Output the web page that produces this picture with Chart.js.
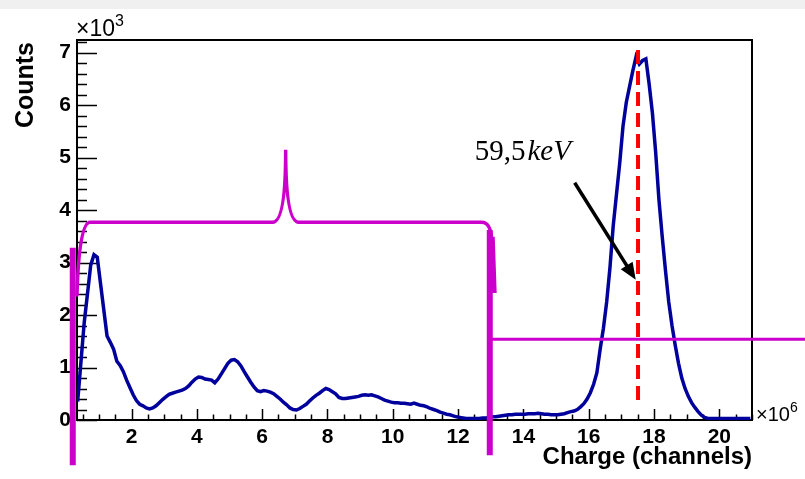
<!DOCTYPE html>
<html>
<head>
<meta charset="utf-8">
<script src="https://cdn.jsdelivr.net/npm/chart.js@4.4.0/dist/chart.umd.min.js"></script>
<style>
    html, body { margin: 0; padding: 0; background: #fff; }
    #spectrumChart { display: block; }
</style>
</head>
<body>
<canvas id="spectrumChart" width="805" height="479"></canvas>
<script>

// histogram: bins of 0.1 x10^6 channels starting at 0.3, counts in units of 10^3
const binStart = 0.3;
const binWidth = 0.1;
const countsK = [
    0.35, 1.1, 1.85, 2.4, 2.95, 3.15, 3.1, 2.6, 2.1, 1.6,
    1.48, 1.35, 1.12, 1.04, 0.92, 0.76, 0.62, 0.48, 0.37, 0.3,
    0.27, 0.23, 0.21, 0.23, 0.27, 0.33, 0.39, 0.44, 0.49, 0.51,
    0.53, 0.55, 0.57, 0.6, 0.65, 0.72, 0.78, 0.82, 0.81, 0.78,
    0.77, 0.76, 0.71, 0.78, 0.88, 0.98, 1.08, 1.14, 1.15, 1.11,
    1.03, 0.92, 0.82, 0.72, 0.63, 0.56, 0.54, 0.56, 0.55, 0.53,
    0.5, 0.45, 0.4, 0.34, 0.29, 0.23, 0.2, 0.19, 0.22, 0.26,
    0.3, 0.36, 0.42, 0.47, 0.51, 0.56, 0.6, 0.58, 0.54, 0.5,
    0.43, 0.41, 0.41, 0.42, 0.43, 0.44, 0.45, 0.47, 0.48, 0.47,
    0.48, 0.46, 0.44, 0.41, 0.38, 0.36, 0.34, 0.33, 0.33, 0.32,
    0.32, 0.31, 0.3, 0.32, 0.3, 0.28, 0.27, 0.25, 0.22, 0.2,
    0.18, 0.15, 0.13, 0.11, 0.1, 0.08, 0.06, 0.05, 0.04, 0.03,
    0.03, 0.03, 0.03, 0.03, 0.04, 0.04, 0.05, 0.06, 0.06, 0.07,
    0.08, 0.09, 0.1, 0.1, 0.11, 0.11, 0.11, 0.11, 0.12, 0.12,
    0.12, 0.13, 0.12, 0.11, 0.11, 0.1, 0.1, 0.1, 0.11, 0.12,
    0.14, 0.16, 0.17, 0.2, 0.25, 0.31, 0.4, 0.52, 0.68, 0.9,
    1.35, 1.75, 2.25, 2.9, 3.7, 4.3, 4.9, 5.6, 6.05, 6.35,
    6.65, 6.92, 6.78, 6.85, 6.88, 6.4, 5.85, 5.1, 4.2, 3.5,
    2.85, 2.25, 1.8, 1.42, 1.08, 0.8, 0.6, 0.45, 0.33, 0.24,
    0.16, 0.09, 0.05, 0.03, 0.03, 0.03, 0.03, 0.03, 0.03, 0.03,
    0.03, 0.03, 0.03, 0.03, 0.03, 0.03, 0.03
];

const xRange = [0.33, 21];
const yRange = [0, 7.24];
const xMajorTicks = [2, 4, 6, 8, 10, 12, 14, 16, 18, 20];
const yMajorTicks = [0, 1, 2, 3, 4, 5, 6, 7];
const xMinorStep = 0.5;
const yMinorStep = 0.2;

// annotations, in axis units
const peakLine = { x: 17.51, yTop: 7.05, yBottom: 0.34 };
const peakText = { x: 12.51, y: 4.96, num: '59,5', unit: 'keV' };
const arrowFrom = [15.57, 4.52];
const arrowTo = [17.44, 2.67];
const sideBars = [[0.2, 3.28, -0.86], [12.97, 3.62, -0.67]];
const braceLevel = 3.77;
const braceLeft = [0.33, 2.38];
const braceTip = [6.72, 5.15];
const braceRight = [13.03, 3.43, 13.09, 2.42];
const regionLine = { y: 1.54, xFrom: 12.97, xTo: 22.7 };

// fine binning in the original, so points go at bin centres and get joined
const histPoints = countsK.map(function (v, i) {
    return { x: binStart + (i + 0.5) * binWidth, y: v };
});

const magenta = '#cc00cc';

function powerLabel(ctx, x, y, exp, size) {
    ctx.font = size + 'px "Liberation Sans", Arial, sans-serif';
    ctx.textAlign = 'left';
    ctx.textBaseline = 'alphabetic';
    ctx.fillText('\u00d710', x, y);
    var w = ctx.measureText('\u00d710').width;
    ctx.font = Math.round(size * 0.7) + 'px "Liberation Sans", Arial, sans-serif';
    ctx.fillText(exp, x + w, y - size * 0.45);
}

//Frame, inner ticks and axis titles like ROOT
const rootAxes = {
    id: 'rootAxes',
    beforeDatasetsDraw(chart) {
        const ctx = chart.ctx;
        const a = chart.chartArea;
        const xs = chart.scales.x;
        const ys = chart.scales.y;
        ctx.save();
        ctx.strokeStyle = '#000';
        ctx.lineWidth = 1.5;
        ctx.beginPath();
        for (var v = Math.ceil(xRange[0] / xMinorStep) * xMinorStep; v <= xRange[1] + 1e-6; v += xMinorStep) {
            var px = Math.round(xs.getPixelForValue(v)) + 0.5;
            var len = xMajorTicks.indexOf(Math.round(v * 10) / 10) >= 0 ? 11 : 5.5;
            ctx.moveTo(px, a.bottom);
            ctx.lineTo(px, a.bottom - len);
        }
        for (var w = 0; w <= yRange[1] + 1e-6; w += yMinorStep) {
            var py = Math.round(ys.getPixelForValue(w)) + 0.5;
            var lenY = yMajorTicks.indexOf(Math.round(w * 10) / 10) >= 0 ? 20 : 10;
            ctx.moveTo(a.left, py);
            ctx.lineTo(a.left + lenY, py);
        }
        ctx.stroke();

        ctx.lineWidth = 2;
        ctx.strokeRect(a.left, a.top, a.right - a.left, a.bottom - a.top);

        ctx.fillStyle = '#000';
        ctx.font = 'bold 24px "Liberation Sans", Arial, sans-serif';
        ctx.textAlign = 'right';
        ctx.textBaseline = 'alphabetic';
        ctx.fillText('Charge (channels)', a.right, 464);

        ctx.save();
        ctx.translate(33, a.top + 2);
        ctx.rotate(-Math.PI / 2);
        ctx.font = 'bold 25px "Liberation Sans", Arial, sans-serif';
        ctx.textAlign = 'right';
        ctx.fillText('Counts', 0, 0);
        ctx.restore();

        powerLabel(ctx, a.left - 1, 36, '3', 23);
        powerLabel(ctx, a.right + 4, 421, '6', 20);
        ctx.restore();
    },
    afterDraw(chart) {
        const ctx = chart.ctx;
        const xs = chart.scales.x;
        const ys = chart.scales.y;
        const X = v => xs.getPixelForValue(v);
        const Y = v => ys.getPixelForValue(v);
        ctx.save();

        // dashed line at the peak
        ctx.strokeStyle = '#ff0000';
        ctx.lineWidth = 4;
        ctx.setLineDash([14, 7]);
        ctx.beginPath();
        ctx.moveTo(X(peakLine.x), Y(peakLine.yTop));
        ctx.lineTo(X(peakLine.x), Y(peakLine.yBottom));
        ctx.stroke();
        ctx.setLineDash([]);

        // arrow
        var x0 = X(arrowFrom[0]), y0 = Y(arrowFrom[1]);
        var x1 = X(arrowTo[0]), y1 = Y(arrowTo[1]);
        var ang = Math.atan2(y1 - y0, x1 - x0);
        var head = 17;
        ctx.strokeStyle = '#000';
        ctx.fillStyle = '#000';
        ctx.lineWidth = 3.5;
        ctx.beginPath();
        ctx.moveTo(x0, y0);
        ctx.lineTo(x1 - Math.cos(ang) * head * 0.8, y1 - Math.sin(ang) * head * 0.8);
        ctx.stroke();
        ctx.beginPath();
        ctx.moveTo(x1, y1);
        ctx.lineTo(x1 - head * Math.cos(ang) + 7 * Math.sin(ang), y1 - head * Math.sin(ang) - 7 * Math.cos(ang));
        ctx.lineTo(x1 - head * Math.cos(ang) - 7 * Math.sin(ang), y1 - head * Math.sin(ang) + 7 * Math.cos(ang));
        ctx.closePath();
        ctx.fill();

        // energy label
        ctx.textAlign = 'left';
        ctx.textBaseline = 'alphabetic';
        ctx.font = '29px "Liberation Serif", "DejaVu Serif", serif';
        ctx.fillText(peakText.num, X(peakText.x), Y(peakText.y));
        var nw = ctx.measureText(peakText.num).width;
        ctx.font = 'italic 29px "Liberation Serif", "DejaVu Serif", serif';
        ctx.fillText(peakText.unit, X(peakText.x) + nw + 2, Y(peakText.y));

        // magenta brace
        ctx.strokeStyle = magenta;
        ctx.lineWidth = 3.5;
        ctx.lineCap = 'round';
        ctx.beginPath();
        ctx.moveTo(X(braceLeft[0]), Y(braceLeft[1]));
        ctx.quadraticCurveTo(X(braceLeft[0]) + 2, Y(braceLevel), X(braceLeft[0]) + 13, Y(braceLevel));
        ctx.lineTo(X(braceTip[0]) - 13, Y(braceLevel));
        ctx.quadraticCurveTo(X(braceTip[0]), Y(braceLevel), X(braceTip[0]), Y(braceTip[1]));
        ctx.quadraticCurveTo(X(braceTip[0]), Y(braceLevel), X(braceTip[0]) + 13, Y(braceLevel));
        ctx.lineTo(X(braceRight[0]) - 10, Y(braceLevel));
        ctx.quadraticCurveTo(X(braceRight[0]) - 1, Y(braceLevel), X(braceRight[0]), Y(braceRight[1]));
        ctx.stroke();
        ctx.lineWidth = 6;
        ctx.lineCap = 'butt';
        ctx.beginPath();
        ctx.moveTo(X(braceRight[0]), Y(braceRight[1]) - 3);
        ctx.lineTo(X(braceRight[2]), Y(braceRight[3]));
        ctx.stroke();

        // region bars
        sideBars.forEach(function (b) {
            ctx.lineWidth = 6;
            ctx.beginPath();
            ctx.moveTo(X(b[0]), Y(b[1]));
            ctx.lineTo(X(b[0]), Y(b[2]));
            ctx.stroke();
        });

        ctx.lineWidth = 3;
        ctx.beginPath();
        ctx.moveTo(X(regionLine.xFrom), Y(regionLine.y));
        ctx.lineTo(X(regionLine.xTo), Y(regionLine.y));
        ctx.stroke();

        ctx.restore();
    }
};

// top strip of the page
const pageBand = {
    id: 'pageBand',
    beforeDraw(chart) {
        const ctx = chart.ctx;
        ctx.save();
        ctx.fillStyle = '#ffffff';
        ctx.fillRect(0, 0, chart.width, chart.height);
        ctx.fillStyle = '#f0f0f0';
        ctx.fillRect(0, 0, chart.width, 9);
        ctx.restore();
    }
};

var ctxSpectrum = document.getElementById('spectrumChart').getContext('2d');
var spectrumChart = new Chart(ctxSpectrum, {
    type: 'line',
    data: {
        datasets: [{
            label: 'Counts',
            data: histPoints,
            borderColor: '#00009c',
            borderWidth: 3.5,
            tension: 0,
            pointRadius: 0,
            fill: false
        }]
    },
    options: {
        responsive: false,
        animation: false,
        layout: { padding: { left: 0, top: 40, right: 53, bottom: 0 } },
        plugins: { legend: { display: false }, tooltip: { enabled: false } },
        scales: {
            x: {
                type: 'linear',
                min: xRange[0],
                max: xRange[1],
                afterFit: function (s) { s.height = 59; },
                afterBuildTicks: function (s) { s.ticks = xMajorTicks.map(v => ({ value: v })); },
                grid: { display: false, drawTicks: false },
                border: { display: false },
                ticks: { color: '#000', font: { family: '"Liberation Sans", Arial, sans-serif', size: 21, weight: 'bold' }, padding: 5, maxRotation: 0, autoSkip: false }
            },
            y: {
                type: 'linear',
                min: yRange[0],
                max: yRange[1],
                afterFit: function (s) { s.width = 77; },
                afterBuildTicks: function (s) { s.ticks = yMajorTicks.map(v => ({ value: v })); },
                grid: { display: false, drawTicks: false },
                border: { display: false },
                ticks: { color: '#000', font: { family: '"Liberation Sans", Arial, sans-serif', size: 21, weight: 'bold' }, padding: 6, autoSkip: false }
            }
        }
    },
    plugins: [pageBand, rootAxes]
});
</script>
</body>
</html>
